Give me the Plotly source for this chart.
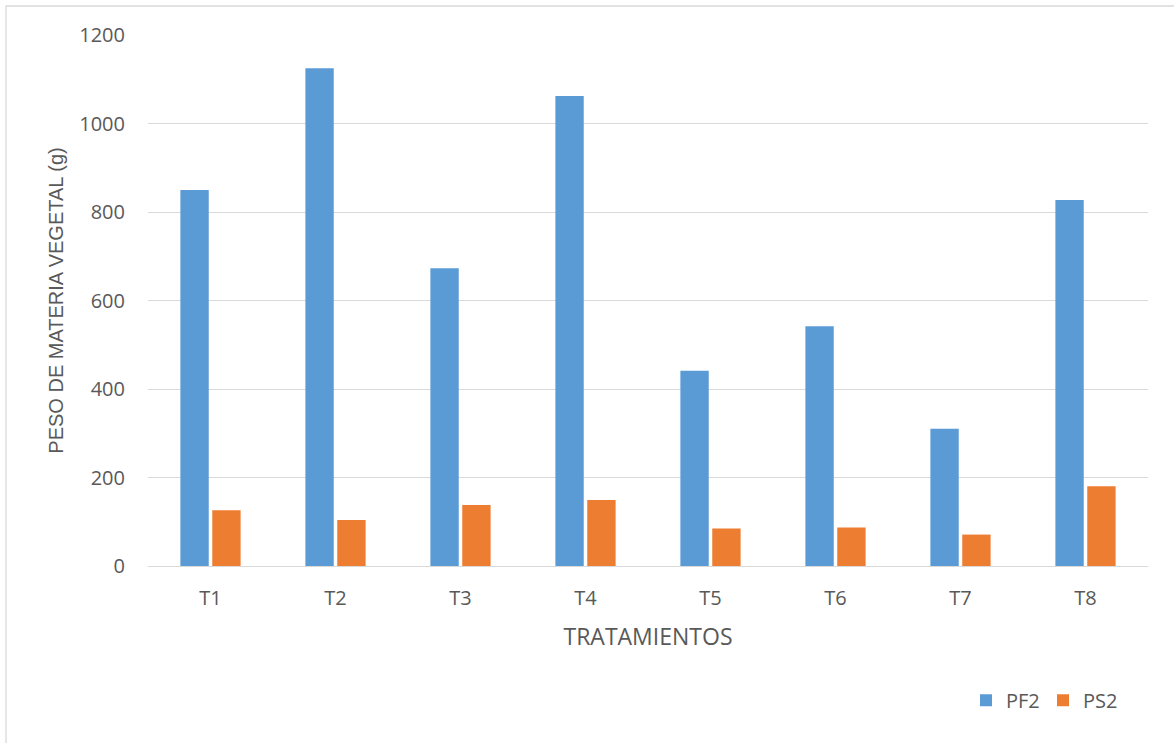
import plotly.graph_objects as go

categories = ["T1", "T2", "T3", "T4", "T5", "T6", "T7", "T8"]
pf2 = [850, 1125, 673, 1062, 441, 542, 310, 827]
ps2 = [126, 104, 138, 149, 85, 87, 71, 180]

W, H = 1174, 743
L, R, T, B = 148, 26, 35, 177

fig = go.Figure()
fig.add_trace(go.Bar(x=categories, y=pf2, name="PF2", marker=dict(color="#5B9BD5", line=dict(width=0))))
fig.add_trace(go.Bar(x=categories, y=ps2, name="PS2", marker=dict(color="#ED7D31", line=dict(width=0))))

font_fam = "Open Sans, Liberation Sans, sans-serif"
fig.update_layout(
    width=W, height=H,
    margin=dict(l=L, r=R, t=T, b=B, autoexpand=False),
    paper_bgcolor="white", plot_bgcolor="white",
    barmode="group", bargap=0.49, bargroupgap=0.11,
    font=dict(family=font_fam, color="#595959", size=20),
    legend=dict(orientation="h", x=0.818, y=-0.253, xanchor="left", yanchor="middle",
                font=dict(size=20, color="#595959"), itemwidth=30,
                entrywidth=32, entrywidthmode="pixels", traceorder="normal"),
    xaxis=dict(title=dict(text="TRATAMIENTOS", font=dict(size=23, color="#595959"), standoff=18),
               showgrid=False, showline=False, ticks="", ticklabelstandoff=18,
               tickfont=dict(size=20, color="#595959")),
    yaxis=dict(title=dict(text="PESO DE MATERIA VEGETAL (g)",
                          font=dict(size=20, color="#595959", family="Liberation Sans Narrow, Arial Narrow, sans-serif"),
                          standoff=10),
               range=[0, 1200], dtick=200, showgrid=True, gridcolor="#d9d9d9", gridwidth=1.3,
               zeroline=True, zerolinecolor="#d9d9d9", zerolinewidth=1.3,
               showline=False, ticks="", ticklabelstandoff=22,
               tickfont=dict(size=20, color="#595959")),
)

pw, ph = W - L - R, H - T - B
def px_x(v):
    return (v - L) / pw
def px_y(v):
    return (H - B - v) / ph

fig.add_shape(type="rect", xref="paper", yref="paper",
              x0=px_x(6), x1=px_x(1185), y0=px_y(6), y1=px_y(760),
              line=dict(color="#d9d9d9", width=1.3), fillcolor="rgba(0,0,0,0)", layer="below")

fig.write_html("out.html")
